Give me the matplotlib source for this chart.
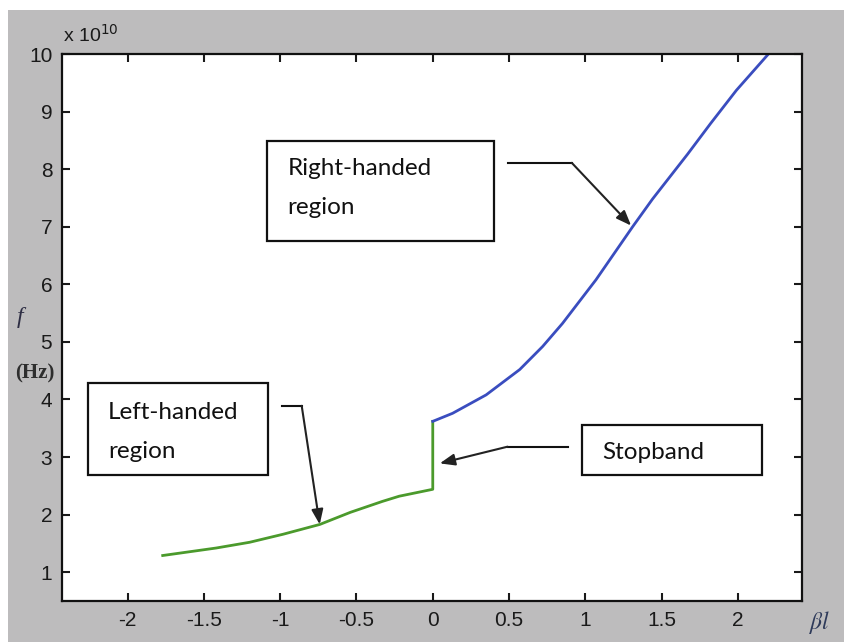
import numpy as np
import matplotlib.pyplot as plt
from matplotlib.patches import Rectangle

# dispersion curve (f in units of 1e10 Hz)
beta_left = [-1.77, -1.42, -1.20, -0.98, -0.74, -0.54, -0.33, -0.22, 0.0, 0.0]
f_left = [1.29, 1.42, 1.52, 1.66, 1.83, 2.04, 2.23, 2.32, 2.44, 3.62]

beta_right = [0.0, 0.13, 0.35, 0.57, 0.72, 0.85, 1.07, 1.31, 1.44, 1.67, 1.82, 1.99, 2.20]
f_right = [3.62, 3.76, 4.08, 4.52, 4.92, 5.32, 6.08, 7.00, 7.48, 8.26, 8.79, 9.37, 10.0]

xticks = [-2, -1.5, -1, -0.5, 0, 0.5, 1, 1.5, 2]
xtick_labels = ['-2', '-1.5', '-1', '-0.5', '0', '0.5', '1', '1.5', '2']
yticks = [1, 2, 3, 4, 5, 6, 7, 8, 9, 10]

W, H = 844, 642
fig = plt.figure(figsize=(W / 100, H / 100), dpi=100, facecolor='white')
# grey matlab-style frame, with the thin white strip of the scan on top/left
fig.patches.append(Rectangle((8 / W, 0), 1, (H - 10) / H, transform=fig.transFigure,
                             facecolor='#bdbcbd', edgecolor='none', zorder=-10))

ax = fig.add_axes([62 / W, (H - 601) / H, (802 - 62) / W, (601 - 54) / H])
ax.set_facecolor('white')

ax.plot(beta_left, f_left, color='#4b9a2c', lw=2)
ax.plot(beta_right, f_right, color='#3a4dbf', lw=2)

ax.set_xlim(-2.43, 2.42)
ax.set_ylim(0.5, 10)
ax.set_xticks(xticks)
ax.set_xticklabels(xtick_labels)
ax.set_yticks(yticks)
ax.tick_params(direction='in', length=6, width=1.5, top=True, right=True,
               labelsize=15, pad=7, colors='#1a1a1a')
for lab in ax.get_xticklabels() + ax.get_yticklabels():
    lab.set_family('Liberation Sans')
for sp in ax.spines.values():
    sp.set_linewidth(1.6)
    sp.set_color('#111111')

fig.text(63 / W, 1 - 35 / H, r'x 10$^{10}$', fontsize=14, family='Liberation Sans',
         va='center', ha='left', color='#1a1a1a')
fig.text(20 / W, 1 - 317 / H, 'f', fontsize=17, family='Liberation Serif', style='italic',
         ha='center', va='center', color='#2e2e44')
fig.text(35 / W, 1 - 373 / H, '(Hz)', fontsize=15, family='Liberation Serif', weight='bold',
         ha='center', va='center', color='#2e2e2e')
fig.text(820 / W, 1 - 622 / H, r'$\beta l$', fontsize=17, ha='center', va='center',
         color='#2e3a5a', math_fontfamily='stix')

box_font = dict(fontsize=17.5, family='Lato', color='#111111', va='center', ha='left')

# (x0, y0, x1, y1) of each label box in data units
boxes = {
    'right': (-1.089, 6.75, 0.40, 8.49),
    'left': (-2.262, 2.68, -1.082, 4.28),
    'stop': (0.977, 2.68, 2.157, 3.55),
}
for x0, y0, x1, y1 in boxes.values():
    ax.add_patch(Rectangle((x0, y0), x1 - x0, y1 - y0, facecolor='white',
                           edgecolor='#111111', lw=1.6, zorder=3))

ax.text(-0.951, 8.02, 'Right-handed', zorder=4, **box_font)
ax.text(-0.951, 7.34, 'region', zorder=4, **box_font)
ax.text(-2.13, 3.77, 'Left-handed', zorder=4, **box_font)
ax.text(-2.13, 3.10, 'region', zorder=4, **box_font)
ax.text(1.108, 3.08, 'Stopband', zorder=4, **box_font)

# leader lines: start, elbow, tip
leaders = [
    ((0.492, 8.11), (0.911, 8.11), (1.30, 7.02)),
    ((-0.99, 3.89), (-0.859, 3.89), (-0.741, 1.83)),
    ((0.885, 3.18), (0.49, 3.18), (0.046, 2.89)),
]
for start, elbow, tip in leaders:
    ax.plot([start[0], elbow[0]], [start[1], elbow[1]], color='#111111', lw=1.5, zorder=4)
    ax.annotate('', xy=tip, xytext=elbow,
                arrowprops=dict(arrowstyle='-|>,head_length=0.9,head_width=0.35',
                                color='#222222', lw=1.5, shrinkA=0, shrinkB=0), zorder=4)

fig.savefig('out.png', dpi=100, facecolor=fig.get_facecolor())
